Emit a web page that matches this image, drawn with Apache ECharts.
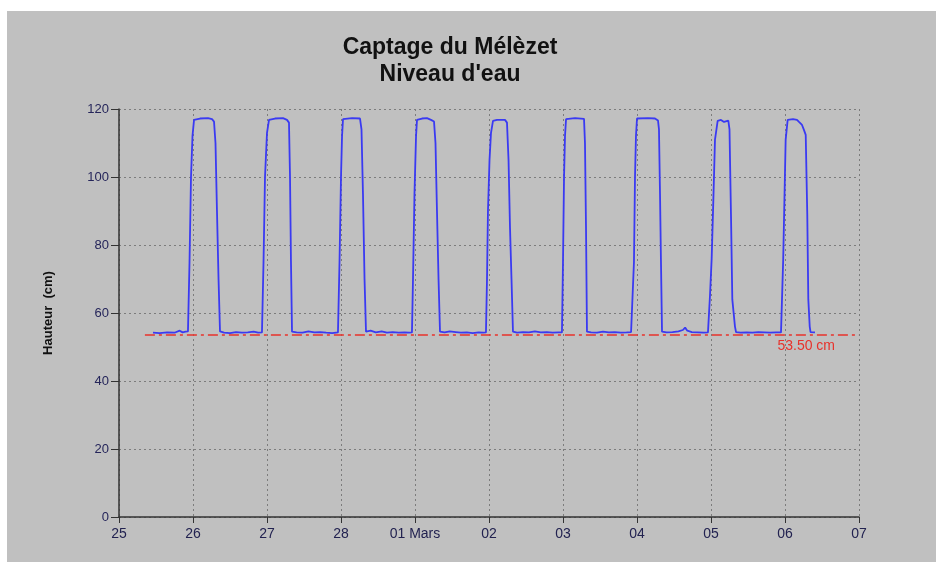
<!DOCTYPE html>
<html>
<head>
<meta charset="utf-8">
<script src="https://cdn.jsdelivr.net/npm/echarts@6/dist/echarts.min.js"></script>
<style>html,body{margin:0;padding:0;background:#fff}#c{width:936px;height:568px}</style>
</head>
<body>
<div id="c"></div>
<script>
// Tick labels for the x axis (days since 25 Feb)
const tickLabels = ['25','26','27','28','01 Mars','02','03','04','05','06','07'];
const yTicks = [0,20,40,60,80,100,120];

// Time (days after 25 Feb 00:00) and water level (cm)
const days = [
 0.459,0.55,0.65,0.75,0.82,0.86,0.90,
 0.932,0.953,0.973,0.993,1.014,1.095,1.203,1.257,1.284,1.304,1.324,1.345,1.365,
 1.42,1.50,1.58,1.66,1.74,1.82,1.88,
 1.932,1.953,1.973,2.000,2.027,2.108,2.216,2.270,2.297,2.311,2.324,2.338,
 2.40,2.48,2.56,2.64,2.72,2.80,2.88,
 2.959,2.980,3.000,3.014,3.027,3.149,3.257,3.277,3.297,3.318,3.338,
 3.40,3.47,3.55,3.62,3.70,3.78,3.86,3.92,
 3.959,3.973,3.993,4.014,4.027,4.095,4.162,4.216,4.257,4.277,4.297,4.318,4.338,
 4.40,4.47,4.55,4.62,4.70,4.78,4.86,4.92,
 4.959,4.973,4.986,5.007,5.027,5.054,5.108,5.216,5.243,5.264,5.284,5.304,5.324,
 5.38,5.46,5.54,5.62,5.70,5.78,5.86,5.94,
 5.986,6.000,6.014,6.027,6.041,6.162,6.284,6.297,6.311,6.324,
 6.38,6.46,6.54,6.62,6.70,6.78,6.86,6.92,
 6.946,6.959,6.973,6.986,7.000,7.149,7.243,7.284,7.297,7.311,7.324,7.338,
 7.40,7.48,7.56,7.62,7.65,7.68,7.74,7.82,7.90,
 7.959,7.986,8.009,8.034,8.054,8.090,8.135,8.176,8.234,8.250,8.270,8.288,8.324,8.338,
 8.40,8.48,8.56,8.64,8.72,8.80,8.88,
 8.946,8.976,9.009,9.036,9.108,9.162,9.189,9.230,9.257,9.280,9.291,9.301,9.315,9.334,9.345,9.405
];
const levels = [
 54.2,54.1,54.3,54.2,54.8,54.3,54.5,
 54.6,75,100,112,116.8,117.2,117.3,117.0,116.3,110,90,70,54.6,
 54.2,54.1,54.4,54.2,54.3,54.5,54.2,
 54.3,75,100,113,116.8,117.2,117.3,116.8,116.0,100,75,54.5,
 54.3,54.2,54.6,54.3,54.4,54.2,54.1,
 54.3,75,100,112,117.0,117.3,117.2,114,95,70,54.5,
 54.8,54.3,54.6,54.2,54.4,54.2,54.3,54.2,
 54.3,70,95,112,116.8,117.2,117.3,116.8,116.3,110,90,70,54.5,
 54.3,54.6,54.4,54.2,54.3,54.1,54.3,54.2,
 54.3,70,90,105,113,116.5,116.8,116.8,116.0,105,85,70,54.5,
 54.2,54.4,54.3,54.6,54.3,54.4,54.2,54.3,
 54.3,75,100,112,117.0,117.3,117.1,110,85,54.5,
 54.3,54.2,54.5,54.3,54.4,54.2,54.3,54.4,
 54.3,75,100,112,117.2,117.3,117.2,116.6,114,95,75,54.5,
 54.3,54.4,54.6,55.0,55.7,54.8,54.4,54.3,54.2,
 54.3,65,76,95,111,116.5,116.8,116.2,116.6,114,89,64,56,54.4,
 54.2,54.3,54.2,54.4,54.3,54.2,54.3,
 54.3,76,111,116.8,117.0,116.8,116.2,115.3,113.8,112.4,100,89,64,56,54.4,54.3
];
// Reference level
const thresholdValue = 53.5;
const thresholdStart = 0.35;
const thresholdLabel = '53.50 cm';

const FONT = '"Liberation Sans", Arial, sans-serif';
const chart = echarts.init(document.getElementById('c'), null, {renderer: 'canvas'});
chart.setOption({
  animation: false,
  backgroundColor: '#c0c0c0',
  textStyle: {fontFamily: FONT},
  graphic: [
    {type: 'rect', shape: {x: 0, y: 0, width: 936, height: 11}, style: {fill: '#ffffff'}, silent: true},
    {type: 'rect', shape: {x: 0, y: 0, width: 7, height: 568}, style: {fill: '#ffffff'}, silent: true},
    {type: 'rect', shape: {x: 0, y: 562, width: 936, height: 6}, style: {fill: '#ffffff'}, silent: true}
  ],
  title: {
    text: 'Captage du Mélèzet\nNiveau d\'eau',
    left: 445, top: 29, textAlign: 'center',
    textStyle: {fontFamily: FONT, fontSize: 23, fontWeight: 'bold', color: '#111', lineHeight: 27}
  },
  grid: {left: 119, right: 77, top: 109, bottom: 51, containLabel: false},
  xAxis: {
    type: 'value', min: 0, max: 10, interval: 1,
    axisLine: {show: true, lineStyle: {color: '#333', width: 1.5}},
    axisTick: {show: true, length: 6, lineStyle: {color: '#333'}},
    axisLabel: {margin: 10, fontSize: 14, color: '#222250', fontFamily: FONT,
      formatter: v => tickLabels[Math.round(v)] || ''},
    splitLine: {show: true, lineStyle: {color: '#7c7c7c', type: [2, 3], width: 1}}
  },
  yAxis: {
    type: 'value', min: 0, max: 120, interval: 20,
    name: 'Hauteur  (cm)', nameLocation: 'middle', nameGap: 64,
    nameTextStyle: {fontFamily: FONT, fontSize: 13, fontWeight: 'bold', color: '#111'},
    axisLine: {show: true, lineStyle: {color: '#333', width: 1.5}},
    axisTick: {show: true, length: 8, lineStyle: {color: '#333'}},
    axisLabel: {margin: 10, fontSize: 13, color: '#25255a', fontFamily: FONT,
      formatter: v => yTicks.includes(v) ? String(v) : ''},
    splitLine: {show: true, lineStyle: {color: '#7c7c7c', type: [2, 3], width: 1}}
  },
  series: [{
    type: 'line',
    data: days.map((d, i) => [d, levels[i]]),
    showSymbol: false, symbol: 'none',
    lineStyle: {color: '#3a3af2', width: 1.8},
    z: 3,
    markLine: {
      silent: true, symbol: 'none', animation: false,
      lineStyle: {color: '#e8322b', type: [10, 4, 3, 4], width: 1.5},
      label: {show: true, formatter: thresholdLabel, position: 'insideEndBottom',
        color: '#e8322b', fontSize: 14, fontFamily: FONT, distance: [24, 4]},
      data: [[{coord: [thresholdStart, thresholdValue]}, {coord: [10, thresholdValue]}]]
    }
  }]
});
</script>
</body>
</html>
